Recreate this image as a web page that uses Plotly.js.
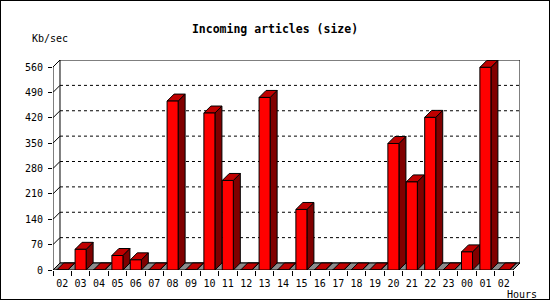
<!DOCTYPE html>
<html><head><meta charset="utf-8">
<script src="https://cdn.plot.ly/plotly-3.0.1.min.js"></script>
<style>body{margin:0;}#wrap{position:relative;width:550px;height:300px;}#frame{position:absolute;left:0;top:0;width:548px;height:298px;border:1px solid #000;pointer-events:none;}</style>
</head><body>
<div id="wrap"><div id="chart" style="width:550px;height:300px;"></div><div id="frame"></div></div>
<script>
const hours = ['02','03','04','05','06','07','08','09','10','11','12','13','14','15','16','17','18','19','20','21','22','23','00','01','02'];
const sizeKb = [0,57,0,40,28,0,466,0,433,247,0,476,0,167,0,0,0,0,349,243,421,0,50,559,0];
const yTicks = [0,70,140,210,280,350,420,490,560];

const DX = 0.38, DY = 19.3, HW = 0.3;
const idx = hours.map((_, i) => i);
const n = hours.length;
const xMin = -0.5, xMax = n - 0.5, yTop = yTicks[yTicks.length - 1];

const shapes = [];
const blk = {color:'#000', width:1};
shapes.push({type:'rect', layer:'below', xref:'x', yref:'y', x0:xMin+DX, x1:xMax+DX, y0:DY, y1:yTop+DY, fillcolor:'#fff', line:blk});
yTicks.slice(1, -1).forEach(v => shapes.push({type:'line', layer:'below', xref:'x', yref:'y', x0:xMin+DX, x1:xMax+DX, y0:v+DY, y1:v+DY, line:{color:'#000', width:1, dash:'dot'}}));
yTicks.forEach(v => shapes.push({type:'line', layer:'below', xref:'x', yref:'y', x0:xMin, x1:xMin+DX, y0:v, y1:v+DY, line:blk}));
shapes.push({type:'line', layer:'below', xref:'x', yref:'y', x0:xMin, x1:xMin, y0:0, y1:yTop, line:blk});
shapes.push({type:'path', layer:'below', xref:'x', yref:'y', path:`M ${xMin},0 L ${xMax},0 L ${xMax+DX},${DY} L ${xMin+DX},${DY} Z`, fillcolor:'#8c8c8c', line:blk});
idx.forEach(i => {
  const v = sizeKb[i];
  const l = i - HW, r = i + HW;
  shapes.push({type:'path', layer:'below', xref:'x', yref:'y', path:`M ${r},0 L ${r+DX},${DY} L ${r+DX},${v+DY} L ${r},${v} Z`, fillcolor:'#800000', line:blk});
  shapes.push({type:'path', layer:'below', xref:'x', yref:'y', path:`M ${l},${v} L ${r},${v} L ${r+DX},${v+DY} L ${l+DX},${v+DY} Z`, fillcolor:'#c00000', line:blk});
});

const font = {family:'"DejaVu Sans Mono", monospace', size:10, color:'#000'};
const data = [{
  type:'bar', x:idx, y:sizeKb, width:HW*2,
  marker:{color:'#ff0000', line:{color:'#000', width:1}},
  hoverinfo:'skip'
}];
const layout = {
  width:550, height:300,
  margin:{l:53, r:30, t:60, b:30, pad:0},
  paper_bgcolor:'#fff', plot_bgcolor:'rgba(0,0,0,0)',
  font:font, showlegend:false,
  title:{text:'Incoming articles (size)', font:{family:'"DejaVu Sans Mono", monospace', size:11.5, color:'#000', weight:'bold'}, x:0.5, xref:'container', xanchor:'center', y:1-28.5/300, yref:'container', yanchor:'middle'},
  xaxis:{range:[xMin, xMax+DX], tickvals:idx, ticktext:hours, ticks:'', showgrid:false, zeroline:false, showline:false, tickfont:font, ticklabelstandoff:6,
         minor:{tick0:-0.5, dtick:1, ticks:'outside', ticklen:5, tickcolor:'#000', showgrid:false}, fixedrange:true},
  yaxis:{range:[0, yTop+DY], tickvals:yTicks, ticktext:yTicks.map(String), ticks:'outside', ticklen:4, tickcolor:'#000', showgrid:false, zeroline:false, showline:false, tickfont:font, ticklabelstandoff:3, fixedrange:true},
  shapes:shapes,
  annotations:[
    {text:'Kb/sec', xref:'paper', yref:'paper', x:(30-53)/467, y:(270-38.6)/210, xanchor:'left', yanchor:'middle', showarrow:false, font:font},
    {text:'Hours', xref:'paper', yref:'paper', x:(505-53)/467, y:(270-294.5)/210, xanchor:'left', yanchor:'middle', showarrow:false, font:font}
  ]
};
Plotly.newPlot('chart', data, layout, {staticPlot:true, displayModeBar:false});
</script>
</body></html>
